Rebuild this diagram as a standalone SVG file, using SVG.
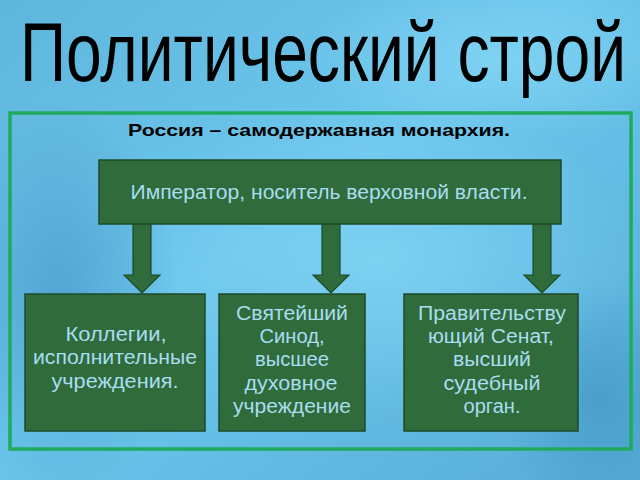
<svg xmlns="http://www.w3.org/2000/svg" width="640" height="480" viewBox="0 0 640 480">
<defs>
<linearGradient id="bg" x1="0" y1="0" x2="1" y2="1">
<stop offset="0" stop-color="#5fb6dc"/>
<stop offset="0.45" stop-color="#6cc6ec"/>
<stop offset="1" stop-color="#56acd6"/>
</linearGradient>
<radialGradient id="blob1" cx="0.5" cy="0.5" r="0.5">
<stop offset="0" stop-color="#86d8f6" stop-opacity="0.7"/>
<stop offset="1" stop-color="#86d8f6" stop-opacity="0"/>
</radialGradient>
<radialGradient id="blob2" cx="0.5" cy="0.5" r="0.5">
<stop offset="0" stop-color="#3f8fbf" stop-opacity="0.55"/>
<stop offset="1" stop-color="#3f8fbf" stop-opacity="0"/>
</radialGradient>
<style>
.box{fill:#2f6b3b;stroke:#1f4a29;stroke-width:1.5}
.arr{fill:#2f6b3b;stroke:#1f4a29;stroke-width:1.2}
.t{font-family:"Liberation Sans",Arial,sans-serif;fill:#a9ddf0;font-size:20px;text-anchor:middle}
</style>
</defs>
<rect width="640" height="480" fill="url(#bg)"/>
<ellipse cx="380" cy="260" rx="260" ry="160" fill="url(#blob1)"/>
<ellipse cx="500" cy="60" rx="200" ry="80" fill="url(#blob1)"/>
<ellipse cx="60" cy="300" rx="120" ry="200" fill="url(#blob2)"/>
<ellipse cx="600" cy="400" rx="100" ry="120" fill="url(#blob2)"/>

<text transform="translate(323,81) scale(1,1.3125)" x="0" y="0" font-family="Liberation Sans,Arial,sans-serif" font-size="64" fill="#000" text-anchor="middle" textLength="606" lengthAdjust="spacingAndGlyphs">Политический строй</text>

<rect x="10" y="113" width="621" height="336" fill="none" stroke="#1fab5c" stroke-width="3.5"/>

<text x="319" y="136" font-family="Liberation Sans,Arial,sans-serif" font-size="17" font-weight="bold" fill="#000" text-anchor="middle" textLength="382" lengthAdjust="spacingAndGlyphs">Россия – самодержавная монархия.</text>

<g id="connectors">
<path class="arr" d="M133 224 H151 V275 H160 L142 293 L124 275 H133 Z"/>
<path class="arr" d="M322 224 H340 V275 H349 L331 293 L313 275 H322 Z"/>
<path class="arr" d="M533 224 H551 V275 H560 L542 293 L524 275 H533 Z"/>
</g>

<g id="emperor">
<rect class="box" x="99" y="160" width="462" height="64"/>
<text class="t" x="329" y="199" textLength="397" lengthAdjust="spacingAndGlyphs">Император, носитель верховной власти.</text>
</g>

<g id="collegia">
<rect class="box" x="25" y="294" width="180" height="137"/>
<text class="t" x="116" y="341" textLength="101" lengthAdjust="spacingAndGlyphs">Коллегии,</text>
<text class="t" x="115" y="364" textLength="164" lengthAdjust="spacingAndGlyphs">исполнительные</text>
<text class="t" x="115" y="388" textLength="127" lengthAdjust="spacingAndGlyphs">учреждения.</text>
</g>

<g id="synod">
<rect class="box" x="219" y="294" width="146" height="137"/>
<text class="t" x="292" y="320" textLength="112" lengthAdjust="spacingAndGlyphs">Святейший</text>
<text class="t" x="292" y="343" textLength="65" lengthAdjust="spacingAndGlyphs">Синод,</text>
<text class="t" x="292" y="366" textLength="74" lengthAdjust="spacingAndGlyphs">высшее</text>
<text class="t" x="291" y="390" textLength="93" lengthAdjust="spacingAndGlyphs">духовное</text>
<text class="t" x="292" y="413" textLength="118" lengthAdjust="spacingAndGlyphs">учреждение</text>
</g>

<g id="senate">
<rect class="box" x="404" y="294" width="174" height="137"/>
<text class="t" x="492" y="320" textLength="148" lengthAdjust="spacingAndGlyphs">Правительству</text>
<text class="t" x="491" y="343" textLength="126" lengthAdjust="spacingAndGlyphs">ющий Сенат,</text>
<text class="t" x="492" y="366" textLength="78" lengthAdjust="spacingAndGlyphs">высший</text>
<text class="t" x="492" y="390" textLength="97" lengthAdjust="spacingAndGlyphs">судебный</text>
<text class="t" x="492" y="413" textLength="57" lengthAdjust="spacingAndGlyphs">орган.</text>
</g>
</svg>
